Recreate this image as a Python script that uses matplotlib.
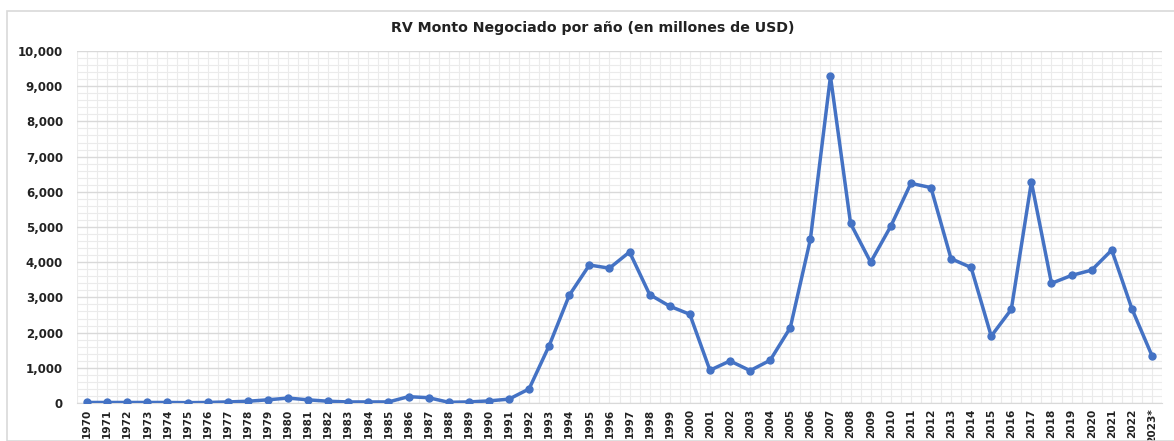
import matplotlib
matplotlib.use("Agg")
import matplotlib.pyplot as plt
from matplotlib.patches import Rectangle
import numpy as np

years = [str(y) for y in range(1970, 2023)] + ["2023*"]
values = [15, 15, 15, 15, 15, 10, 15, 30, 50, 90, 140, 90, 50, 30, 30, 30,
          180, 150, 20, 30, 60, 110, 400, 1630, 3060, 3920, 3830, 4290, 3080,
          2750, 2520, 930, 1195, 920, 1215, 2140, 4650, 9280, 5100, 4000, 5020,
          6240, 6120, 4100, 3850, 1900, 2660, 6280, 3400, 3625, 3775, 4345,
          2680, 1345]
title = "RV Monto Negociado por año (en millones de USD)"

fig = plt.figure(figsize=(11.74, 4.41), dpi=100)
fig.patches.append(Rectangle((7/1174, 0.0), 1.2, 1 - 11/441, transform=fig.transFigure,
                             fill=False, edgecolor="#d9d9d9", linewidth=1.2))
ax = fig.add_axes([77/1174, 1 - 403/441, (1162 - 77)/1174, (403 - 51)/441])

x = np.arange(len(years))
ax.set_xlim(-0.5, len(years) - 0.5)
ax.set_ylim(0, 10000)
ax.set_yticks(np.arange(0, 10001, 1000))
ax.set_yticks(np.arange(0, 10001, 200), minor=True)
ax.set_xticks(x)
ax.set_xticks(np.arange(-0.5, len(years), 0.5), minor=True)
ax.grid(which="minor", color="#ebebeb", linewidth=0.8)
ax.grid(which="major", axis="y", color="#d9d9d9", linewidth=1.0)
ax.grid(which="major", axis="x", color="#ebebeb", linewidth=0.8)
ax.set_axisbelow(True)

ax.plot(x, values, color="#4472C4", linewidth=2.5, marker="o", markersize=5,
        zorder=3)

ax.set_yticklabels([f"{v:,}" for v in range(0, 10001, 1000)],
                   fontsize=8.5, fontweight="bold", color="#222222")
ax.set_xticklabels(years, rotation=90, fontsize=7.6, fontweight="bold", color="#222222")
ax.tick_params(axis="both", which="both", length=0, pad=4)
ax.tick_params(axis="y", pad=10)
for s in ax.spines.values():
    s.set_visible(False)
ax.spines["bottom"].set_visible(True)
ax.spines["bottom"].set_color("#d9d9d9")

fig.text(593/1174, 1 - 28/441, title, ha="center", va="center",
         fontsize=10.2, fontweight="bold", color="#222222")

fig.savefig("out.png", dpi=100)
